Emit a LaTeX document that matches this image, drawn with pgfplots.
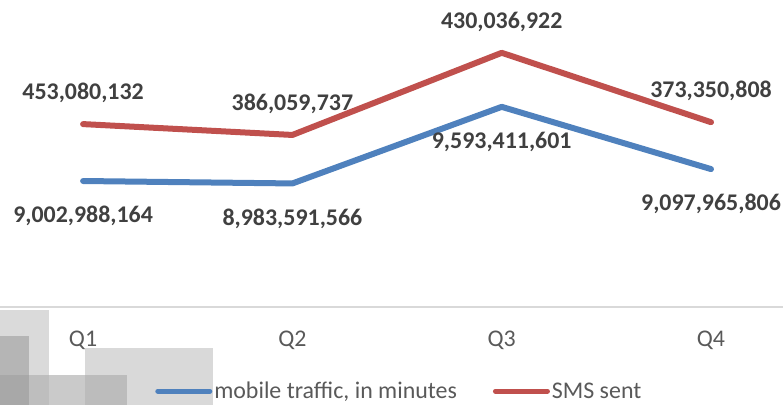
\documentclass[border=0pt]{standalone}
\usepackage{pgfplots}
\pgfplotsset{compat=1.18}
\usepackage{fontspec}
\setmainfont{Carlito}
\definecolor{serblue}{HTML}{4F81BD}
\definecolor{serred}{HTML}{C0504D}
\definecolor{lblgray}{HTML}{404040}
\definecolor{tickgray}{HTML}{595959}
\definecolor{axgray}{HTML}{D9D9D9}

\begin{document}
\begin{tikzpicture}
\useasboundingbox (0bp,-98bp) rectangle (783bp,307bp);
% blurred patch in the lower left corner
\fill[fill={rgb,255:red,218;green,218;blue,218}] (0bp,-3bp) rectangle (49bp,-98bp);
\fill[fill={rgb,255:red,217;green,217;blue,217}] (85bp,-41bp) rectangle (213bp,-98bp);
\fill[fill={rgb,255:red,181;green,181;blue,181}] (0bp,-29bp) rectangle (29bp,-68bp);
\fill[fill={rgb,255:red,168;green,168;blue,168}] (0bp,-68bp) rectangle (29bp,-98bp);
\fill[fill={rgb,255:red,190;green,190;blue,190}] (29bp,-68bp) rectangle (49bp,-98bp);
\fill[fill={rgb,255:red,202;green,202;blue,202}] (49bp,-68bp) rectangle (85bp,-98bp);
\fill[fill={rgb,255:red,188;green,188;blue,188}] (85bp,-68bp) rectangle (127bp,-98bp);
\begin{axis}[
    at={(0bp,0bp)}, anchor=south west,
    scale only axis,
    width=783bp, height=307bp,
    xmin=-0.397, xmax=3.344,
    ymin=8e9, ymax=10.444e9,
    axis x line=bottom, axis y line=none,
    x axis line style={-, draw=axgray, line width=1.3bp},
    xtick={0,1,2,3}, xticklabels={Q1,Q2,Q3,Q4},
    major tick length=0pt,
    xticklabel style={font=\fontsize{24}{28}\selectfont, text=tickgray, anchor=center, yshift=-33bp},
    ytick=\empty,
    clip=false,
    stack plots=y,
    nodes near coords,
    point meta=explicit symbolic,
    every node near coord/.append style={font=\fontsize{24}{28}\selectfont\bfseries, text=lblgray, anchor=center},
    legend style={at={(0.510,-0.274)}, anchor=center, draw=none, fill=none,
        font=\fontsize{24}{28}\selectfont, text=tickgray, legend columns=2,
        /tikz/every even column/.append style={column sep=34bp}},
    legend image code/.code={\draw[#1, line width=5bp, line cap=round] (0bp,0bp) -- (52bp,0bp);},
]
\addplot[serblue, line width=6bp, line cap=round, line join=round,
    every node near coord/.append style={yshift=-35bp}] coordinates {
    (0,9002988164) [9,002,988,164]
    (1,8983591566) [8,983,591,566]
    (2,9593411601) [9,593,411,601]
    (3,9097965806) [9,097,965,806]
};
\addlegendentry{mobile traffic, in minutes}
\addplot[serred, line width=6bp, line cap=round, line join=round,
    every node near coord/.append style={yshift=31bp}] coordinates {
    (0,453080132) [453,080,132]
    (1,386059737) [386,059,737]
    (2,430036922) [430,036,922]
    (3,373350808) [373,350,808]
};
\addlegendentry{SMS sent}
\end{axis}
\end{tikzpicture}
\end{document}
